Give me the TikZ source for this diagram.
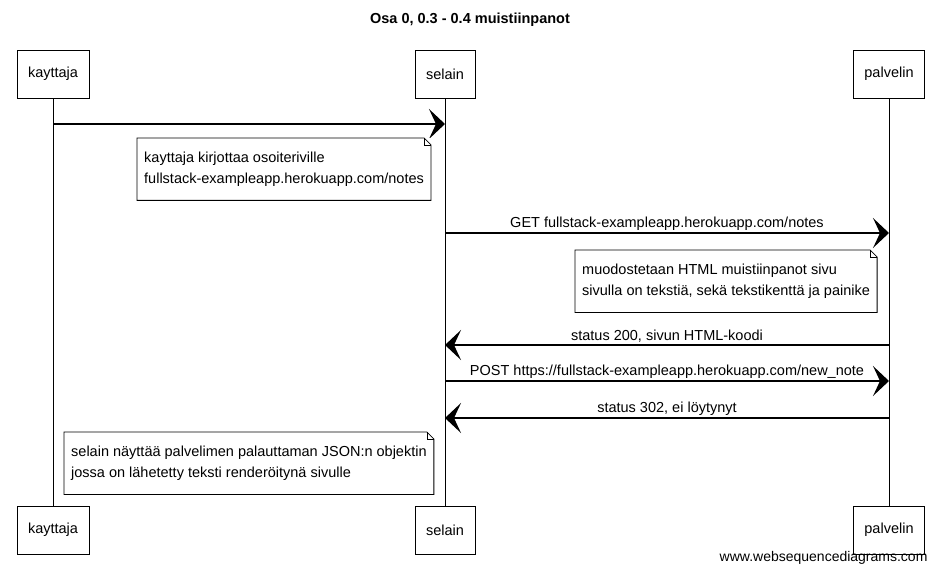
\documentclass[tikz,border=0pt]{standalone}
\usepackage{fontspec}
\setmainfont{Liberation Sans}
\usetikzlibrary{arrows.meta,positioning}

\begin{document}
\begin{tikzpicture}[x=1pt,y=-1pt,
  actor/.style={draw,line width=0.8pt,fill=white,minimum height=48pt,
                inner xsep=11pt,font=\fontsize{14.5}{17}\selectfont},
  note/.style={fill=white,inner xsep=7pt,inner ysep=0pt,minimum height=62pt,
               align=left,anchor=north west,font=\fontsize{14.5}{21}\selectfont},
  msg/.style={-{Stealth[length=16pt,width=30pt,inset=7pt]},line width=1.2pt},
  lbl/.style={above=1pt,inner sep=1pt,font=\fontsize{14.5}{17}\selectfont},
  life/.style={line width=0.7pt},
]
\useasboundingbox (0,0) rectangle (939,572);

\node[font=\bfseries\fontsize{14.5}{17}\selectfont] (title) at (470,20) {Osa 0, 0.3 - 0.4 muistiinpanot};

% osapuolet
\node[actor] (kay)  at (53,74)  {kayttaja};
\node[actor] (sel)  at (445,74) {selain};
\node[actor] (pal)  at (889,74) {palvelin};
\node[actor] (kayB) at (53,530)  {kayttaja};
\node[actor] (selB) at (445,530) {selain};
\node[actor] (palB) at (889,530) {palvelin};

\draw[life] (kay) -- (kayB);
\draw[life] (sel) -- (selB);
\draw[life] (pal) -- (palB);

% viestit
\draw[msg] (kay |- 0,124) -- (sel |- 0,124);
\node[note] (n1) at (137,138) {kayttaja kirjottaa osoiteriville\\fullstack-exampleapp.herokuapp.com/notes};
\draw[msg] (sel |- 0,233) -- node[lbl]{GET fullstack-exampleapp.herokuapp.com/notes} (pal |- 0,233);
\node[note] (n2) at (575,250) {muodostetaan HTML muistiinpanot sivu\\sivulla on tekstiä, sekä tekstikenttä ja painike};
\draw[msg] (pal |- 0,345) -- node[lbl]{status 200, sivun HTML-koodi} (sel |- 0,345);
\draw[msg] (sel |- 0,381) -- node[lbl]{POST https://fullstack-exampleapp.herokuapp.com/new\_note} (pal |- 0,381);
\draw[msg] (pal |- 0,418) -- node[lbl]{status 302, ei löytynyt} (sel |- 0,418);
\node[note] (n3) at (64,432) {selain näyttää palvelimen palauttaman JSON:n objektin\\jossa on lähetetty teksti renderöitynä sivulle};

% muistilappujen reunat
\foreach \n in {n1,n2,n3} {
  \draw[line width=0.8pt] (\n.south west) -- (\n.north west) -- ([xshift=-7pt]\n.north east)
    -- ([yshift=-7pt]\n.north east) -- (\n.south east) -- cycle;
  \draw[line width=0.6pt] ([xshift=-7pt]\n.north east) -- ([xshift=-7pt,yshift=-7pt]\n.north east)
    -- ([yshift=-7pt]\n.north east);
}

\node[anchor=east,font=\fontsize{14}{16}\selectfont] (wsd) at (931,558) {www.websequencediagrams.com};
\end{tikzpicture}
\end{document}
